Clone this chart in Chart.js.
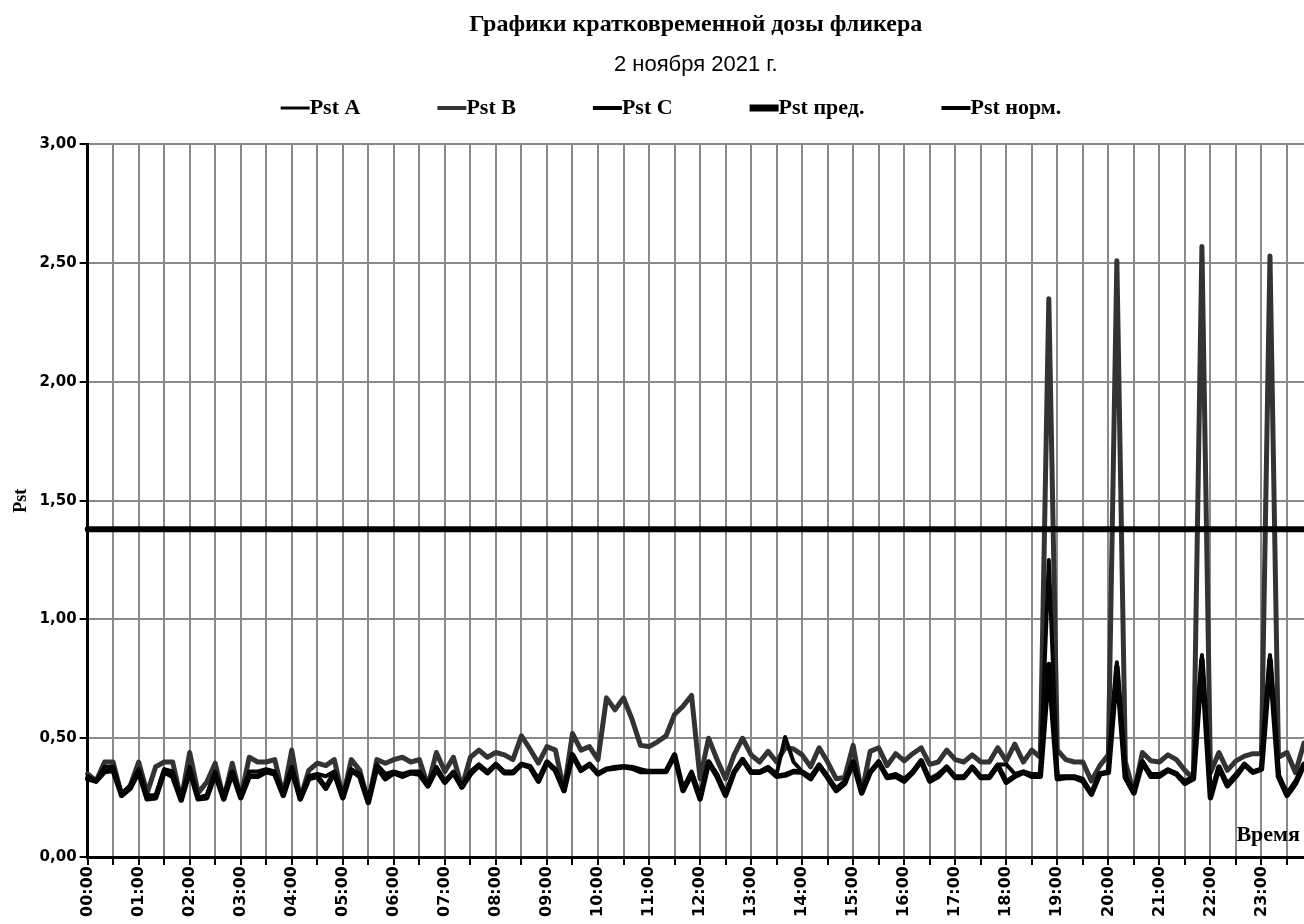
<!doctype html>
<html lang="ru">
  <head>
    <meta charset="utf-8">
    <title>Pst 2 ноября 2021</title>
    <style>
        * { margin: 0; padding: 0; box-sizing: border-box; }
        body { background: #fff; }
        #wrap { width: 1304px; height: 924px; }
    </style>
  </head>
  <body>
    <div id="wrap"><canvas id="pstChart"></canvas></div>
    <script src="https://cdn.jsdelivr.net/npm/chart.js@4.4.1/dist/chart.umd.min.js"></script>
    <script>
      // 10-minute intervals, 00:00 .. 23:50
      const times = [];
      for (let h = 0; h < 24; h++) {
        for (let m = 0; m < 60; m += 10) {
          times.push(String(h).padStart(2, '0') + ':' + String(m).padStart(2, '0'));
        }
      }

      const pstA = [
        0.34,0.32,0.38,0.38,0.27,0.30,0.37,0.26,0.26,0.37,0.36,0.25,
        0.38,0.25,0.26,0.36,0.25,0.36,0.26,0.36,0.36,0.37,0.36,0.27,
        0.38,0.25,0.34,0.35,0.34,0.36,0.26,0.37,0.35,0.24,0.39,0.35,
        0.36,0.35,0.36,0.36,0.31,0.38,0.32,0.36,0.30,0.36,0.39,0.36,
        0.39,0.36,0.36,0.39,0.38,0.33,0.40,0.37,0.29,0.42,0.37,0.39,
        0.35,0.37,0.38,0.38,0.38,0.37,0.36,0.36,0.36,0.42,0.29,0.36,
        0.26,0.40,0.35,0.27,0.36,0.41,0.36,0.36,0.38,0.35,0.505,0.40,
        0.36,0.34,0.39,0.34,0.29,0.32,0.40,0.28,0.36,0.40,0.34,0.35,
        0.33,0.36,0.40,0.33,0.35,0.38,0.34,0.34,0.38,0.34,0.34,0.39,
        0.39,0.35,0.36,0.35,0.35,1.25,0.34,0.34,0.34,0.33,0.27,0.35,
        0.36,0.82,0.34,0.28,0.40,0.35,0.35,0.37,0.35,0.32,0.34,0.85,
        0.26,0.38,0.31,0.35,0.39,0.36,0.37,0.85,0.35,0.27,0.32,0.39
      ];
      const pstB = [
        0.35,0.32,0.40,0.40,0.26,0.30,0.40,0.27,0.38,0.40,0.40,0.24,
        0.44,0.27,0.315,0.395,0.245,0.395,0.25,0.42,0.40,0.40,0.41,0.26,
        0.45,0.245,0.365,0.395,0.385,0.41,0.25,0.41,0.365,0.23,0.41,0.395,
        0.41,0.42,0.40,0.41,0.30,0.44,0.36,0.42,0.295,0.42,0.45,0.42,
        0.44,0.43,0.41,0.51,0.455,0.395,0.465,0.45,0.28,0.52,0.45,0.465,
        0.41,0.67,0.62,0.67,0.58,0.47,0.465,0.485,0.51,0.60,0.635,0.68,
        0.33,0.50,0.41,0.33,0.43,0.50,0.43,0.40,0.445,0.40,0.46,0.455,
        0.43,0.38,0.46,0.40,0.33,0.335,0.47,0.27,0.445,0.46,0.385,0.435,
        0.405,0.435,0.46,0.39,0.40,0.45,0.41,0.40,0.43,0.40,0.40,0.46,
        0.405,0.475,0.40,0.45,0.42,2.35,0.45,0.41,0.40,0.40,0.32,0.385,
        0.43,2.51,0.40,0.27,0.44,0.405,0.40,0.43,0.41,0.365,0.33,2.57,
        0.355,0.44,0.365,0.405,0.425,0.435,0.435,2.53,0.42,0.44,0.355,0.48
      ];
      const pstC = [
        0.33,0.32,0.36,0.365,0.26,0.29,0.36,0.245,0.25,0.36,0.34,0.24,
        0.365,0.245,0.25,0.35,0.245,0.355,0.25,0.34,0.34,0.36,0.35,0.26,
        0.37,0.245,0.33,0.34,0.29,0.355,0.25,0.365,0.34,0.23,0.38,0.33,
        0.355,0.34,0.355,0.35,0.30,0.37,0.315,0.355,0.295,0.35,0.385,0.355,
        0.39,0.355,0.355,0.39,0.38,0.32,0.40,0.365,0.28,0.43,0.365,0.39,
        0.35,0.37,0.375,0.38,0.375,0.36,0.36,0.36,0.36,0.43,0.28,0.35,
        0.245,0.40,0.34,0.26,0.357,0.41,0.357,0.357,0.373,0.34,0.345,0.36,
        0.357,0.33,0.385,0.335,0.28,0.31,0.40,0.27,0.357,0.40,0.335,0.34,
        0.32,0.357,0.405,0.32,0.34,0.378,0.335,0.335,0.378,0.335,0.335,0.385,
        0.315,0.34,0.357,0.34,0.34,0.81,0.33,0.335,0.335,0.32,0.265,0.35,
        0.357,0.80,0.335,0.27,0.40,0.34,0.34,0.365,0.35,0.31,0.33,0.83,
        0.25,0.378,0.30,0.34,0.39,0.357,0.37,0.83,0.34,0.26,0.31,0.39
      ];
      const pstLimit = times.map(() => 1.38);   // Pst пред.
      const pstNorm = [];                        // Pst норм. (not plotted)

      const GRID = '#8a8a8a';

      // legend row drawn by hand so the wide gaps between items fit under the titles
      const legendRow = {
        id: 'legendRow',
        afterDraw(chart) {
          const ctx = chart.ctx;
          const sets = chart.data.datasets;
          const lineLen = 29, gap = 77, y = 108;
          ctx.save();
          ctx.font = 'bold 22px "Liberation Serif"';
          ctx.textBaseline = 'middle';
          ctx.textAlign = 'left';
          let total = 0;
          sets.forEach((ds, i) => { total += lineLen + ctx.measureText(ds.label).width + (i ? gap : 0); });
          let x = chart.width / 2 + 19 - total / 2;
          sets.forEach(ds => {
            ctx.strokeStyle = ds.borderColor;
            ctx.lineWidth = ds.legendWidth;
            ctx.beginPath();
            ctx.moveTo(x, y);
            ctx.lineTo(x + lineLen, y);
            ctx.stroke();
            ctx.fillStyle = '#000';
            ctx.fillText(ds.label, x + lineLen, y);
            x += lineLen + ctx.measureText(ds.label).width + gap;
          });
          // axis name inside the plot, bottom right
          const a = chart.chartArea;
          ctx.font = 'bold 22px "Liberation Serif"';
          ctx.textAlign = 'right';
          ctx.fillText('Время', a.right - 4, a.bottom - 22);
          ctx.restore();
        }
      };

      const ctxEl = document.getElementById('pstChart');
      const pstChart = new Chart(ctxEl, {
        type: 'line',
        data: {
          labels: times,
          datasets: [
            { label: 'Pst A', data: pstA, borderColor: '#050505', borderWidth: 4, legendWidth: 3, order: 1 },
            { label: 'Pst B', data: pstB, borderColor: '#333333', borderWidth: 5, legendWidth: 4, order: 3 },
            { label: 'Pst C', data: pstC, borderColor: '#000000', borderWidth: 5.5, legendWidth: 4, order: 2 },
            { label: 'Pst пред.', data: pstLimit, borderColor: '#000000', borderWidth: 6, legendWidth: 7, order: 0 },
            { label: 'Pst норм.', data: pstNorm, borderColor: '#000000', borderWidth: 4, legendWidth: 4, order: 4 }
          ]
        },
        options: {
          responsive: true,
          maintainAspectRatio: false,
          animation: false,
          events: [],
          elements: {
            point: { radius: 0 },
            line: { tension: 0, fill: false, borderJoinStyle: 'round', borderCapStyle: 'round' }
          },
          layout: { padding: { top: 2, left: 7, right: 0, bottom: 6 } },
          plugins: {
            legend: { display: false },
            tooltip: { enabled: false },
            title: {
              display: true,
              fullSize: false,
              text: 'Графики кратковременной дозы фликера',
              color: '#000',
              font: { family: '"Liberation Serif"', size: 24, weight: 'bold' },
              padding: { top: 8, bottom: 13 }
            },
            subtitle: {
              display: true,
              fullSize: false,
              text: '2 ноября 2021 г.',
              color: '#000',
              font: { family: '"Liberation Sans"', size: 22, weight: 'normal' },
              padding: { top: 0, bottom: 66 }
            }
          },
          scales: {
            x: {
              offset: false,
              border: { color: '#000', width: 3 },
              grid: {
                color: c => (c.index % 3 === 0 ? GRID : 'transparent'),
                tickColor: c => (c.index % 3 === 0 ? '#000' : 'transparent'),
                lineWidth: 2,
                tickWidth: 2,
                tickLength: 8
              },
              ticks: {
                autoSkip: false,
                maxRotation: 90,
                minRotation: 90,
                padding: 1,
                color: '#000',
                font: { family: '"DejaVu Sans"', size: 16, weight: 'bold' },
                callback: (v, i) => (i % 6 === 0 ? times[i] : '')
              },
              afterFit: s => { s.paddingRight = 0; }
            },
            y: {
              min: 0,
              max: 3,
              border: { color: '#000', width: 3 },
              grid: { color: GRID, lineWidth: 2, tickColor: '#000', tickWidth: 2, tickLength: 8 },
              ticks: {
                stepSize: 0.5,
                padding: 3,
                color: '#000',
                font: { family: '"DejaVu Sans"', size: 15, weight: 'bold' },
                callback: v => v.toFixed(2).replace('.', ',')
              },
              title: {
                display: true,
                text: 'Pst',
                color: '#000',
                font: { family: '"Liberation Serif"', size: 18, weight: 'bold' },
                padding: { top: 4, bottom: 4 }
              }
            }
          }
        },
        plugins: [legendRow]
      });
    </script>
  </body>
</html>
